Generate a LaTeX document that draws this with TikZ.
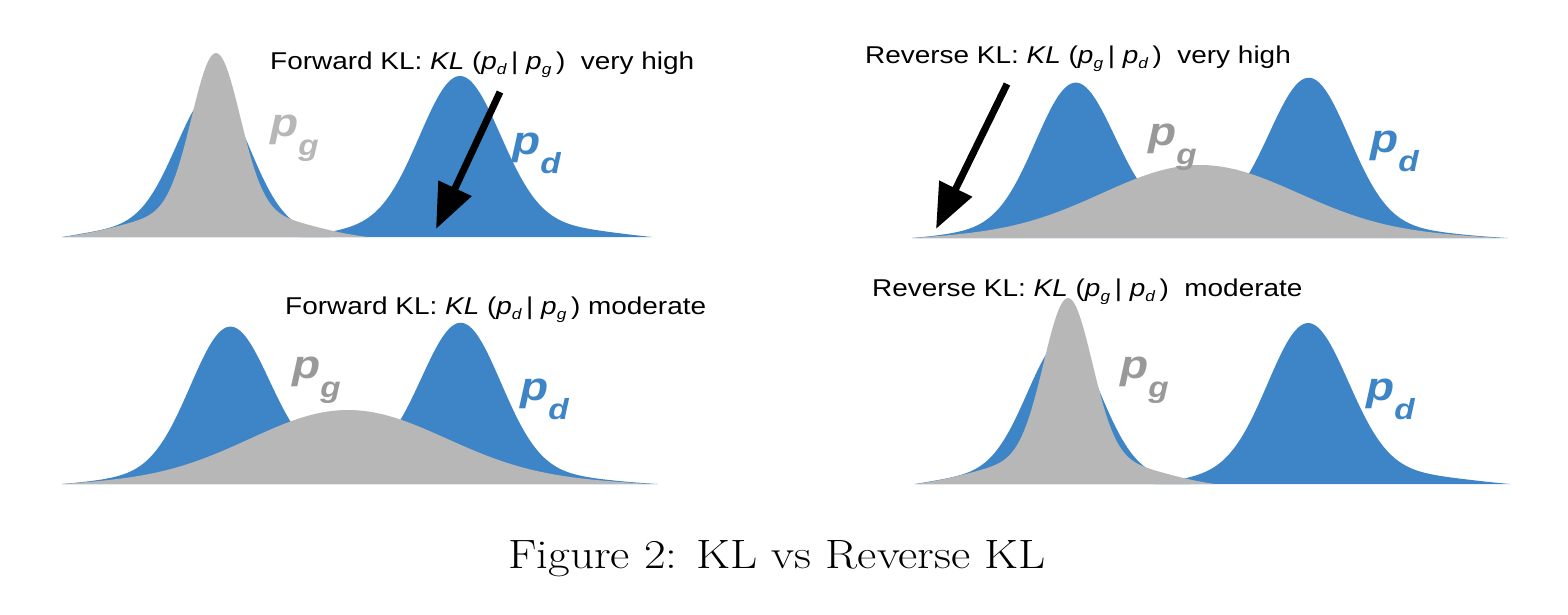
\documentclass[tikz,border=0pt]{standalone}
\usepackage{fontspec}
\setsansfont{Liberation Sans}
\usetikzlibrary{arrows.meta}

\definecolor{blued}{HTML}{3D85C6}
\definecolor{grayg}{HTML}{B7B7B7}
\definecolor{graylab}{HTML}{999999}

% texts of the figure are a little wider than high
\newcommand{\headtxt}[1]{\scalebox{1.15}[1]{\fontsize{24.3}{24}\selectfont\sffamily #1}}
\newcommand{\hsub}[1]{\raisebox{-5pt}{\fontsize{15}{15}\selectfont\itshape #1}}
\newcommand{\distlab}[1]{\scalebox{1.15}[1]{\fontsize{40}{40}\selectfont\sffamily\bfseries\itshape p\raisebox{-19pt}{\fontsize{29}{29}\selectfont #1}}}

\begin{document}
\begin{tikzpicture}[
    x=1pt, y=-1pt,
    declare function={
        bu(\x,\m,\s)=0.9*exp(-((\x-\m)/\s)^2/2)+0.1*exp(-((\x-\m)/(3*\s))^2/2);
        nar(\x,\m)=0.85*exp(-((\x-\m)/24)^2/2)+0.15*exp(-((\x-\m)/80)^2/2);
        win(\x,\c,\w)=1-((\x-\c)/\w)^4;
    },
    pdfill/.style={fill=blued, draw=none},
    pgfill/.style={fill=grayg, draw=none},
    head/.style={anchor=base west, inner sep=0pt},
    dlab/.style={anchor=base west, inner sep=0pt},
    klarrow/.style={-{Triangle[length=45pt,width=35pt]}, line width=7pt}
]
\useasboundingbox (0,0) rectangle (1568,614);

% top left: forward KL very high
\fill[pdfill] plot[domain=62:330, samples=150]
    (\x, {237-145*bu(\x,213,36)*win(\x,196,134)}) -- cycle;
\fill[pdfill] plot[domain=300:652, samples=150]
    (\x, {237-161*bu(\x,460,40)*win(\x,476,176)}) -- cycle;
\fill[pgfill] plot[domain=62:368, samples=150]
    (\x, {237-184*nar(\x,216)*win(\x,215,153)}) -- cycle;
\node[head] (t1) at (270,69) {\headtxt{Forward KL: \textit{KL} (\textit{p}\hsub{d}\,| \textit{p}\hsub{g}\,)\ \ very high}};
\node[dlab, text=grayg] (pg1) at (270,136) {\distlab{g}};
\node[dlab, text=blued] (pd1) at (512,154) {\distlab{d}};
\coordinate (a1s) at (500,92);
\coordinate (a1e) at (436,229);
\draw[klarrow] (a1s) -- (a1e);

% top right: reverse KL very high
\fill[pdfill] plot[domain=912:1508, samples=200]
    (\x, {238-(160*bu(\x,1073,40)+160*bu(\x,1310,40))*win(\x,1210,298)}) -- cycle;
\fill[pgfill] plot[domain=912:1500, samples=150]
    (\x, {238-73*bu(\x,1200,95)*win(\x,1206,294)}) -- cycle;
\node[head] (t2) at (865,63) {\headtxt{Reverse KL: \textit{KL} (\textit{p}\hsub{g}\,| \textit{p}\hsub{d}\,)\ \ very high}};
\node[dlab, text=graylab] (pg2) at (1148,145) {\distlab{g}};
\node[dlab, text=blued] (pd2) at (1370,152) {\distlab{d}};
\coordinate (a2s) at (1007,84);
\coordinate (a2e) at (936,229);
\draw[klarrow] (a2s) -- (a2e);

% bottom left: forward KL moderate
\fill[pdfill] plot[domain=62:658, samples=200]
    (\x, {484-(161*bu(\x,228,40)+161*bu(\x,462,40))*win(\x,360,298)}) -- cycle;
\fill[pgfill] plot[domain=62:650, samples=150]
    (\x, {484-74*bu(\x,348,95)*win(\x,356,294)}) -- cycle;
\node[head] (t3) at (285,314) {\headtxt{Forward KL: \textit{KL} (\textit{p}\hsub{d}\,| \textit{p}\hsub{g}\,) moderate}};
\node[dlab, text=graylab] (pg3) at (292,378) {\distlab{g}};
\node[dlab, text=blued] (pd3) at (520,400) {\distlab{d}};

% bottom right: reverse KL moderate
\fill[pdfill] plot[domain=915:1190, samples=150]
    (\x, {484-145*bu(\x,1064,36)*win(\x,1052.5,137.5)}) -- cycle;
\fill[pdfill] plot[domain=1155:1510, samples=150]
    (\x, {484-161*bu(\x,1308,40)*win(\x,1332.5,177.5)}) -- cycle;
\fill[pgfill] plot[domain=915:1215, samples=150]
    (\x, {484-186*nar(\x,1068)*win(\x,1065,150)}) -- cycle;
\node[head] (t4) at (872,296) {\headtxt{Reverse KL: \textit{KL} (\textit{p}\hsub{g}\,| \textit{p}\hsub{d}\,)\ \ moderate}};
\node[dlab, text=graylab] (pg4) at (1120,378) {\distlab{g}};
\node[dlab, text=blued] (pd4) at (1366,400) {\distlab{d}};

% caption
\node[anchor=base west, inner sep=0pt] (cap) at (508,568)
    {\scalebox{1.15}[1]{\fontsize{41}{44}\selectfont Figure 2: KL vs Reverse KL}};
\end{tikzpicture}
\end{document}
